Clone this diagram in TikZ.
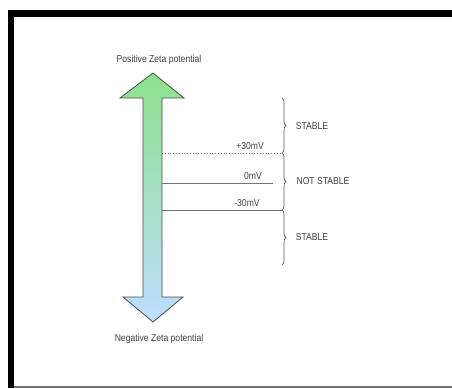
\documentclass[tikz,border=0pt]{standalone}
\usepackage{fontspec}
\setmainfont{Liberation Sans}
\usetikzlibrary{decorations.pathreplacing}
\definecolor{posgreen}{RGB}{140,225,140}
\definecolor{midteal}{RGB}{170,230,210}
\definecolor{negblue}{RGB}{190,222,255}
\begin{document}
\begin{tikzpicture}[x=1pt,y=-1pt,
  lbl/.style={inner sep=0pt, font=\fontsize{10}{11}\selectfont, text=black!75, xscale=0.86},
  level/.style={draw=black!55, line width=0.8pt},
  dotlevel/.style={level, dotted},
  bracebox/.style={draw=black!65, line width=0.7pt, decorate, decoration={brace, amplitude=4pt}}]
\useasboundingbox (0,0) rectangle (452,388);
% frame
\fill[white] (0,0) rectangle (452,388);
\fill[black] (8,10) rectangle (452,17);
\fill[black] (8,10) rectangle (14,388);
\fill[black!55] (14,386) rectangle (452,388);
% double arrow
\path[draw=black!70, line width=0.8pt, top color=posgreen, middle color=midteal, bottom color=negblue]
  (153,73) -- (184,98) -- (162,98) -- (162,297) -- (183,297) -- (153,322)
  -- (123,297) -- (143,297) -- (143,98) -- (120,98) -- cycle;
\node[lbl] (pos) at (159,60) {Positive Zeta potential};
\node[lbl] (neg) at (159,339) {Negative Zeta potential};
% shaft anchors
\coordinate (s1) at (162,153);
\coordinate (s2) at (162,183);
\coordinate (s3) at (162,210);
\coordinate (b0) at (282,98);
\coordinate (b1) at (282,153);
\coordinate (b3) at (282,210);
\coordinate (b4) at (282,265);
\coordinate (e2) at (273,183);
\draw[dotlevel] (s1) -- (b1);
\draw[level] (s2) -- (e2);
\draw[level] (s3) -- (b3);
\node[lbl] (p30) at (250,146) {+30mV};
\node[lbl] (z0) at (253,176) {0mV};
\node[lbl] (m30) at (247,203) {-30mV};
% braces
\draw[bracebox] (b0) -- (b1);
\draw[bracebox] (b1) -- (b3);
\draw[bracebox] (b3) -- (b4);
\node[lbl] (st1) at (312,126) {STABLE};
\node[lbl] (ns) at (323,181) {NOT STABLE};
\node[lbl] (st2) at (312,237) {STABLE};
\end{tikzpicture}
\end{document}
